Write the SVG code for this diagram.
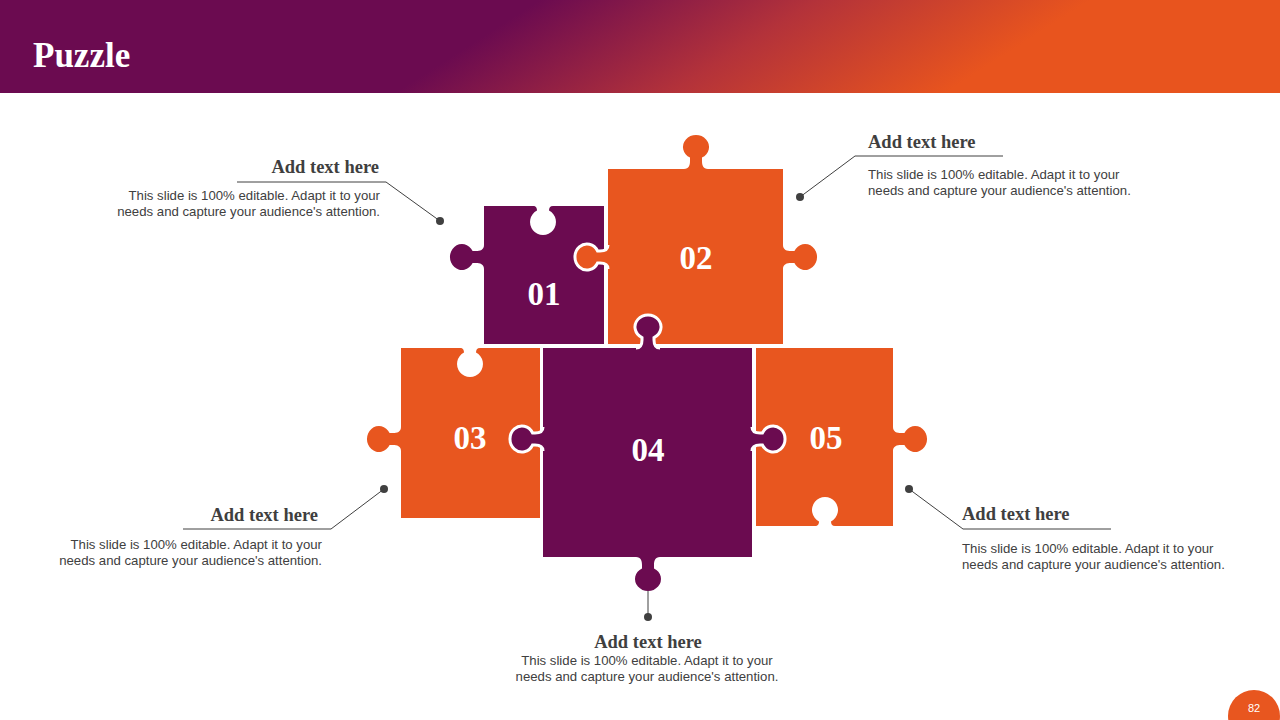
<svg xmlns="http://www.w3.org/2000/svg" width="1280" height="720" viewBox="0 0 1280 720">
<defs>
<linearGradient id="hdr" gradientUnits="userSpaceOnUse" x1="540" y1="0" x2="700" y2="250">
<stop offset="0" stop-color="#6B0B50"/>
<stop offset="0.5" stop-color="#B3323A"/>
<stop offset="1" stop-color="#E8541E"/>
</linearGradient>
<path id="tab" d="M -12 0 C -7 0 -6 -4 -6 -8 L -6 -11.4 A 13 12 0 1 1 6 -11.4 L 6 -8 C 6 -4 7 0 12 0 Z"/>
<path id="itab" d="M -12 0 C -7 0 -6 -4 -6 -8 L -6 -10.4 A 13 12 0 1 1 6 -10.4 L 6 -8 C 6 -4 7 0 12 0"/>
<path id="hole" d="M -10 0 C -7 0 -6 -2 -6 -4.5 A 13 13 0 1 1 6 -4.5 C 6 -2 7 0 10 0 Z"/>
</defs>
<style>
.pu{fill:#6B0B50}
.or{fill:#E8561F}
.lock{stroke:#FFFFFF;stroke-width:3}
.hole{fill:#FFFFFF}
.num{font-family:"Liberation Serif",serif;font-weight:bold;font-size:33px;fill:#FFFFFF;text-anchor:middle}
.ttl{font-family:"Liberation Serif",serif;font-weight:bold;font-size:18.5px;fill:#3F3F3F}
.body{font-family:"Liberation Sans",Arial,sans-serif;font-size:13.2px;fill:#404040}
.ln{stroke:#404040;stroke-width:1;fill:none}
.dot{fill:#404040}
</style>
<rect x="0" y="0" width="1280" height="720" fill="#FFFFFF"/>
<g id="header">
<rect x="0" y="0" width="1280" height="93" fill="url(#hdr)"/>
<text x="33" y="67" font-family="Liberation Serif,serif" font-weight="bold" font-size="35" fill="#FFFFFF">Puzzle</text>
</g>
<g id="piece01">
<rect class="pu" x="484" y="206" width="120" height="138"/>
<use href="#tab" class="pu" transform="translate(484,257) rotate(-90)"/>
<use href="#hole" class="hole" transform="translate(543,206) rotate(180)"/>
<text class="num" x="544" y="305">01</text>
</g>
<g id="piece02">
<rect class="or" x="608" y="169" width="175" height="175"/>
<use href="#tab" class="or" transform="translate(696,169)"/>
<use href="#tab" class="or" transform="translate(783,257) rotate(90)"/>
<use href="#itab" class="or lock" transform="translate(608,257) rotate(-90)"/>
<text class="num" x="696" y="269">02</text>
</g>
<g id="piece03">
<rect class="or" x="401" y="348" width="139" height="170"/>
<use href="#tab" class="or" transform="translate(401,439) rotate(-90)"/>
<use href="#hole" class="hole" transform="translate(470,348) rotate(180)"/>
<text class="num" x="470" y="449">03</text>
</g>
<g id="piece05">
<rect class="or" x="756" y="348" width="137" height="178"/>
<use href="#tab" class="or" transform="translate(893,439) rotate(90)"/>
<use href="#hole" class="hole" transform="translate(825,526)"/>
<text class="num" x="826" y="449">05</text>
</g>
<g id="piece04">
<rect class="pu" x="543" y="348" width="209" height="209"/>
<use href="#itab" class="pu lock" transform="translate(648,348)"/>
<use href="#itab" class="pu lock" transform="translate(543,439) rotate(-90)"/>
<use href="#itab" class="pu lock" transform="translate(752,439) rotate(90)"/>
<use href="#tab" class="pu" transform="translate(648,557) rotate(180)"/>
<text class="num" x="648" y="461">04</text>
</g>
<g id="connectors">
<polyline class="ln" points="440,221 386,182 237,182"/>
<circle class="dot" cx="440" cy="221" r="4"/>
<polyline class="ln" points="800,197 855,156 1003,156"/>
<circle class="dot" cx="800" cy="197" r="4"/>
<polyline class="ln" points="384,489 331,529 183,529"/>
<circle class="dot" cx="384" cy="489" r="4"/>
<polyline class="ln" points="909,489 963,529 1111,529"/>
<circle class="dot" cx="909" cy="489" r="4"/>
<line class="ln" x1="648" y1="591" x2="648" y2="617"/>
<circle class="dot" cx="648" cy="617" r="4"/>
</g>
<g id="callout-tl" text-anchor="end">
<text class="ttl" x="379" y="173">Add text here</text>
<text class="body" x="380" y="200">This slide is 100% editable. Adapt it to your</text>
<text class="body" x="380" y="216">needs and capture your audience's attention.</text>
</g>
<g id="callout-tr">
<text class="ttl" x="868" y="148">Add text here</text>
<text class="body" x="868" y="179">This slide is 100% editable. Adapt it to your</text>
<text class="body" x="868" y="195">needs and capture your audience's attention.</text>
</g>
<g id="callout-bl" text-anchor="end">
<text class="ttl" x="318" y="521">Add text here</text>
<text class="body" x="322" y="549">This slide is 100% editable. Adapt it to your</text>
<text class="body" x="322" y="565">needs and capture your audience's attention.</text>
</g>
<g id="callout-br">
<text class="ttl" x="962" y="520">Add text here</text>
<text class="body" x="962" y="553">This slide is 100% editable. Adapt it to your</text>
<text class="body" x="962" y="569">needs and capture your audience's attention.</text>
</g>
<g id="callout-b" text-anchor="middle">
<text class="ttl" x="648" y="648">Add text here</text>
<text class="body" x="647" y="665">This slide is 100% editable. Adapt it to your</text>
<text class="body" x="647" y="681">needs and capture your audience's attention.</text>
</g>
<g id="page-number">
<circle cx="1254" cy="716" r="26" fill="#E8561F"/>
<text x="1254" y="712" font-family="Liberation Sans,Arial,sans-serif" font-size="11" fill="#FFFFFF" text-anchor="middle">82</text>
</g>
</svg>
